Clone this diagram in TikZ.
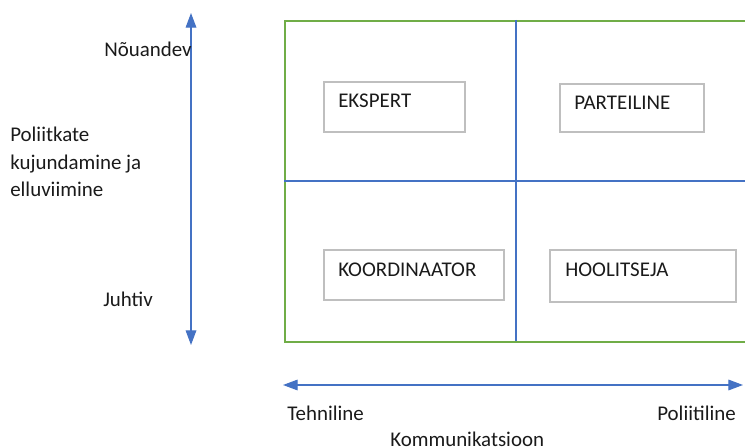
\documentclass[tikz,border=0pt]{standalone}
\usepackage{fontspec}
\setmainfont{Carlito}
\usetikzlibrary{arrows.meta}
\definecolor{axisblue}{HTML}{4472C4}
\definecolor{framegreen}{HTML}{70AD47}
\definecolor{boxgray}{HTML}{BFBFBF}
\definecolor{txt}{HTML}{1A1A1A}
\begin{document}
\begin{tikzpicture}[x=0.75pt,y=-0.75pt,
  lbl/.style={anchor=base west,inner sep=0pt,font=\fontsize{15.7}{20.6}\selectfont,text=txt},
  rolebox/.style={draw=boxgray,line width=1.3pt,anchor=north west,inner sep=0pt},
  axisarrow/.style={draw=axisblue,line width=0.9pt,{Triangle[length=11pt,width=8pt]}-{Triangle[length=11pt,width=8pt]}}
]
\useasboundingbox (0,0) rectangle (745,448);
% frame
\node[draw=framegreen,line width=1.4pt,anchor=north west,inner sep=0pt,minimum width=348pt,minimum height=240.75pt] (frame) at (284,20) {};
\coordinate (vtop) at (516,20);
\coordinate (vbot) at (516,341);
\coordinate (hleft) at (284,181);
\coordinate (hright) at (748,181);
\draw[axisblue,line width=0.8pt] (vtop) -- (vbot);
\draw[axisblue,line width=0.8pt] (hleft) -- (hright);
% role boxes
\node[rolebox,minimum width=105.75pt,minimum height=37.5pt] (b1) at (323,81) {};
\node[rolebox,minimum width=108pt,minimum height=36pt] (b2) at (559,83) {};
\node[rolebox,minimum width=135pt,minimum height=37.5pt] (b3) at (323,249) {};
\node[rolebox,minimum width=139.5pt,minimum height=39pt] (b4) at (549,249) {};
\node[lbl] (t1) at (338,108) {EKSPERT};
\node[lbl] (t2) at (574,110) {PARTEILINE};
\node[lbl] (t3) at (338,277) {KOORDINAATOR};
\node[lbl] (t4) at (565,277) {HOOLITSEJA};
% axes
\coordinate (atop) at (191,13);
\coordinate (abot) at (191,345);
\coordinate (aleft) at (283,385);
\coordinate (aright) at (743,385);
\draw[axisarrow] (abot) -- (atop);
\draw[axisarrow] (aleft) -- (aright);
% labels
\node[lbl] (nouandev) at (104,57) {Nõuandev};
\node[lbl] (juhtiv) at (103,307) {Juhtiv};
\node[lbl] (poli1) at (10,142) {Poliitkate};
\node[lbl] (poli2) at (10,170) {kujundamine ja};
\node[lbl] (poli3) at (10,197) {elluviimine};
\node[lbl] (tehn) at (287,420) {Tehniline};
\node[lbl] (poliit) at (657,420) {Poliitiline};
\node[lbl] (komm) at (390,446) {Kommunikatsioon};
\end{tikzpicture}
\end{document}
